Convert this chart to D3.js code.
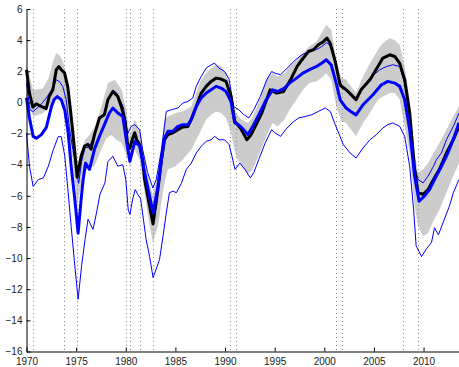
<!DOCTYPE html>
<html><head><meta charset="utf-8">
<script src="https://cdn.jsdelivr.net/npm/d3@7"></script>
<style>
body{margin:0;background:#fff}
svg{display:block}
.tick text{font-family:"Liberation Sans",Arial,Helvetica,sans-serif;font-size:10px;fill:#222}
</style>
</head><body>
<svg id="chart" width="459" height="367"></svg>
<script>
const xTicks = [1970,1975,1980,1985,1990,1995,2000,2005,2010];
const yTicks = [-16,-14,-12,-10,-8,-6,-4,-2,0,2,4,6];
const recessionDates = [1970.65,1973.78,1975.1,1980.0,1980.42,1981.42,1982.78,1990.48,1991.12,2001.15,2001.83,2007.93,2009.45];

const bandUpper = [[1970.0,2.5],[1970.67,0.8],[1971.65,0.9],[1972.3,1.67],[1972.65,2.6],[1973.0,3.17],[1973.3,3.05],[1973.65,2.7],[1974.0,1.78],[1974.3,0.17],[1974.67,-1.54],[1975.1,-4.1],[1975.5,-3.25],[1975.9,-2.4],[1976.2,-2.2],[1976.9,-1.54],[1977.55,-0.26],[1978.2,1.24],[1978.9,1.45],[1979.6,0.8],[1980.1,-0.68],[1980.4,-2.18],[1980.9,-1.1],[1981.4,-1.75],[1981.9,-3.67],[1982.4,-5.17],[1982.73,-6.0],[1983.24,-4.5],[1983.6,-2.6],[1983.9,-1.1],[1984.25,-0.9],[1985.0,-0.68],[1985.75,-0.58],[1986.6,-0.26],[1987.1,0.6],[1987.6,1.45],[1988.1,1.88],[1988.6,2.2],[1989.1,2.42],[1989.6,2.3],[1990.1,1.88],[1990.6,0.81],[1991.1,-0.68],[1991.65,-1.1],[1992.3,-1.32],[1992.8,-0.9],[1993.5,0.17],[1994.15,1.45],[1994.8,1.88],[1995.3,1.67],[1996.0,1.88],[1996.5,2.3],[1997.2,2.74],[1997.85,3.17],[1998.5,3.6],[1999.2,3.9],[1999.7,4.45],[2000.2,4.98],[2000.7,4.66],[2001.2,2.74],[2001.7,1.6],[2002.2,1.45],[2003.2,0.6],[2003.9,1.67],[2004.6,2.52],[2005.4,3.38],[2005.9,3.8],[2006.6,4.13],[2007.1,4.0],[2007.6,3.7],[2008.1,2.3],[2008.6,0.17],[2009.1,-3.25],[2009.45,-4.5],[2009.95,-4.3],[2010.45,-3.9],[2011.0,-3.25],[2011.6,-2.6],[2012.3,-1.75],[2013.0,-0.9],[2013.57,-0.26]];

const bandLower = [[1970.0,0.3],[1970.67,-0.9],[1971.65,-0.7],[1972.3,-0.26],[1972.65,0.0],[1973.0,0.4],[1973.3,0.5],[1973.65,0.2],[1974.0,-0.7],[1974.3,-2.2],[1974.67,-3.7],[1975.1,-6.6],[1975.5,-5.4],[1975.9,-4.5],[1976.2,-4.2],[1976.85,-4.1],[1977.55,-3.0],[1978.05,-2.3],[1978.55,-2.1],[1979.05,-2.4],[1979.6,-2.6],[1980.1,-3.46],[1980.4,-4.1],[1980.9,-3.03],[1981.4,-3.67],[1981.9,-5.8],[1982.4,-7.95],[1982.73,-9.0],[1983.24,-7.95],[1983.6,-6.4],[1983.9,-5.17],[1984.25,-4.3],[1985.0,-4.1],[1985.75,-3.67],[1986.6,-3.03],[1987.1,-2.4],[1987.6,-1.75],[1988.1,-1.1],[1988.6,-0.79],[1989.1,-0.58],[1989.6,-0.68],[1990.1,-1.0],[1990.6,-1.95],[1991.1,-3.46],[1991.65,-4.1],[1992.3,-4.6],[1992.8,-4.3],[1993.5,-3.25],[1994.15,-2.18],[1994.8,-1.32],[1995.3,-1.54],[1996.0,-1.1],[1996.5,-0.47],[1997.2,0.17],[1997.85,0.81],[1998.5,1.24],[1999.2,1.35],[1999.7,1.56],[2000.2,1.88],[2000.7,1.45],[2001.2,-0.26],[2001.7,-1.2],[2002.2,-1.32],[2003.2,-2.18],[2003.9,-1.32],[2004.6,-0.68],[2005.4,0.17],[2005.9,0.38],[2006.6,0.6],[2007.1,0.6],[2007.6,0.17],[2008.1,-1.54],[2008.6,-3.25],[2009.1,-6.67],[2009.45,-7.95],[2009.95,-8.6],[2010.45,-8.4],[2011.0,-7.6],[2011.6,-6.9],[2012.3,-5.8],[2012.8,-5.0],[2013.57,-3.9]];

const blackLine = [[1970.0,2.1],[1970.3,0.6],[1970.64,-0.3],[1970.98,-0.1],[1971.3,-0.2],[1971.65,-0.3],[1971.98,-0.4],[1972.3,0.4],[1972.65,0.8],[1973.0,2.1],[1973.26,2.3],[1973.5,2.1],[1973.83,1.9],[1974.16,1.0],[1974.43,-0.5],[1974.67,-1.95],[1974.94,-3.7],[1975.1,-4.8],[1975.5,-3.46],[1975.85,-2.8],[1976.2,-2.7],[1976.5,-3.0],[1976.85,-2.07],[1977.35,-1.0],[1977.85,-0.79],[1978.2,0.17],[1978.7,0.7],[1979.2,0.38],[1979.55,-0.26],[1979.9,-1.1],[1980.2,-2.8],[1980.4,-2.95],[1980.65,-2.4],[1980.9,-1.95],[1981.1,-2.4],[1981.4,-2.7],[1981.7,-3.7],[1981.9,-4.95],[1982.4,-6.67],[1982.75,-7.8],[1983.24,-5.6],[1983.6,-3.67],[1983.9,-2.4],[1984.25,-2.07],[1984.75,-1.95],[1985.25,-1.75],[1985.75,-1.58],[1986.25,-1.55],[1986.6,-1.1],[1987.1,-0.26],[1987.6,0.6],[1988.1,1.03],[1988.6,1.35],[1989.1,1.56],[1989.6,1.5],[1990.1,1.35],[1990.6,0.4],[1990.97,-1.2],[1991.6,-1.7],[1992.2,-2.4],[1992.6,-2.1],[1993.05,-1.54],[1993.7,-0.68],[1994.55,0.81],[1995.2,0.6],[1995.9,0.7],[1996.6,1.45],[1997.25,2.3],[1997.75,2.74],[1998.4,3.27],[1998.9,3.38],[1999.4,3.7],[1999.9,3.9],[2000.27,4.13],[2000.6,3.8],[2001.1,2.63],[2001.6,1.1],[2002.2,0.81],[2002.7,0.5],[2003.2,0.17],[2003.7,0.81],[2004.6,1.45],[2005.4,2.3],[2005.9,2.85],[2006.6,3.06],[2007.1,2.95],[2007.6,2.5],[2008.1,1.45],[2008.6,-0.66],[2009.1,-4.3],[2009.45,-5.8],[2009.95,-5.9],[2010.45,-5.6],[2011.0,-4.95],[2011.6,-4.3],[2012.3,-3.25],[2013.0,-2.4],[2013.57,-1.54]];

const blueLine = [[1970.0,0.3],[1970.3,-1.0],[1970.67,-2.18],[1971.0,-2.3],[1971.5,-2.07],[1972.0,-1.6],[1972.5,-0.3],[1972.8,0.2],[1973.1,0.38],[1973.5,0.17],[1973.86,-0.5],[1974.2,-1.95],[1974.5,-4.1],[1974.87,-6.24],[1975.2,-8.4],[1975.5,-6.24],[1975.7,-5.0],[1975.95,-3.9],[1976.35,-4.3],[1976.85,-3.0],[1977.35,-2.18],[1977.85,-1.43],[1978.35,-0.68],[1978.7,-0.36],[1979.2,-0.68],[1979.7,-0.9],[1980.1,-2.6],[1980.42,-3.78],[1980.9,-2.5],[1981.4,-2.8],[1981.9,-4.5],[1982.4,-6.0],[1982.75,-7.1],[1983.24,-5.4],[1983.6,-3.67],[1983.9,-2.28],[1984.25,-1.86],[1984.75,-1.86],[1985.25,-1.54],[1985.75,-1.43],[1986.25,-1.43],[1986.6,-1.1],[1987.1,-0.26],[1987.6,0.28],[1988.1,0.6],[1988.6,0.81],[1989.1,1.03],[1989.6,0.92],[1990.1,0.7],[1990.6,0.06],[1990.97,-1.3],[1991.4,-1.45],[1991.8,-1.7],[1992.3,-2.07],[1992.8,-1.54],[1993.5,-0.68],[1994.15,0.17],[1994.8,0.81],[1995.3,0.7],[1996.0,0.92],[1996.5,1.24],[1997.2,1.56],[1997.85,1.88],[1998.5,2.1],[1999.2,2.3],[1999.7,2.5],[2000.2,2.74],[2000.7,2.4],[2001.2,1.24],[2001.6,0.17],[2002.2,-0.36],[2002.7,-0.6],[2003.2,-0.8],[2003.9,-0.15],[2004.9,0.49],[2005.75,1.13],[2006.4,1.35],[2007.1,1.24],[2007.6,1.03],[2008.1,0.17],[2008.6,-1.75],[2009.1,-4.74],[2009.55,-6.35],[2010.1,-6.0],[2010.6,-5.6],[2011.1,-4.95],[2011.8,-4.1],[2012.45,-3.25],[2013.1,-2.18],[2013.57,-1.3]];

const blueUpperThin = [[1970.0,1.25],[1970.35,-0.47],[1970.64,-0.6],[1971.1,-0.35],[1971.65,0.0],[1972.1,0.38],[1972.65,0.94],[1973.0,1.45],[1973.3,1.35],[1973.65,1.03],[1974.0,0.17],[1974.3,-1.54],[1974.67,-3.03],[1975.1,-4.6],[1975.25,-5.2],[1975.55,-3.8],[1975.9,-2.9],[1976.3,-2.9],[1976.85,-2.1],[1977.35,-1.0],[1977.85,-0.7],[1978.2,0.2],[1978.7,0.8],[1979.1,0.6],[1979.4,0.17],[1979.75,-0.3],[1980.0,-1.2],[1980.2,-2.0],[1980.55,-1.54],[1980.9,-1.43],[1981.4,-1.75],[1981.7,-3.03],[1982.2,-4.5],[1982.73,-5.5],[1983.07,-4.95],[1983.6,-3.03],[1983.9,-1.54],[1984.08,-0.58],[1984.6,-0.47],[1985.25,-0.36],[1985.75,-0.04],[1986.25,0.06],[1986.75,0.28],[1987.1,1.03],[1987.6,1.67],[1988.1,2.2],[1988.6,2.42],[1988.95,2.52],[1989.4,2.2],[1989.95,1.99],[1990.4,1.5],[1990.87,-0.26],[1991.37,-0.47],[1991.9,-0.79],[1992.4,-1.0],[1992.9,-0.47],[1993.55,0.38],[1994.2,1.45],[1994.7,1.99],[1995.0,1.88],[1995.6,1.78],[1996.25,2.2],[1997.1,2.74],[1997.75,3.06],[1998.6,3.3],[1999.25,3.4],[1999.75,3.6],[2000.27,3.85],[2000.6,3.6],[2000.95,2.95],[2001.3,1.88],[2001.8,1.0],[2002.3,0.8],[2002.8,0.5],[2003.2,0.3],[2003.8,0.9],[2004.6,1.56],[2005.6,2.1],[2006.25,2.3],[2006.9,2.42],[2007.6,2.3],[2008.1,1.24],[2008.6,-1.1],[2009.1,-4.1],[2009.45,-4.95],[2009.95,-5.17],[2010.45,-4.74],[2011.0,-4.1],[2011.3,-3.67],[2011.8,-3.25],[2012.3,-2.4],[2013.0,-1.54],[2013.57,-0.68]];

const blueLowerThin = [[1970.0,-1.96],[1970.3,-4.1],[1970.67,-5.4],[1971.2,-4.95],[1971.7,-4.85],[1972.2,-4.1],[1972.7,-3.03],[1973.2,-2.2],[1973.5,-2.2],[1973.86,-3.46],[1974.2,-5.8],[1974.5,-7.95],[1974.87,-10.5],[1975.2,-12.65],[1975.55,-10.5],[1975.9,-8.8],[1976.2,-7.5],[1976.7,-8.16],[1977.05,-7.1],[1977.4,-5.9],[1977.9,-5.17],[1978.2,-3.8],[1978.7,-3.46],[1979.2,-4.1],[1979.7,-4.0],[1980.0,-4.95],[1980.25,-6.9],[1980.42,-7.2],[1980.7,-6.2],[1980.95,-5.6],[1981.2,-5.9],[1981.5,-6.2],[1982.05,-8.8],[1982.4,-9.9],[1982.75,-11.25],[1983.07,-10.7],[1983.4,-10.1],[1983.75,-8.6],[1984.08,-7.1],[1984.4,-5.8],[1984.75,-5.7],[1985.1,-5.8],[1985.6,-5.2],[1986.1,-4.3],[1986.6,-3.9],[1987.1,-3.25],[1987.6,-2.82],[1988.1,-2.5],[1988.6,-2.4],[1988.95,-2.18],[1989.4,-2.4],[1989.95,-2.4],[1990.4,-2.7],[1990.7,-3.46],[1991.0,-4.3],[1991.5,-3.9],[1992.0,-4.3],[1992.55,-4.85],[1992.9,-4.5],[1993.4,-3.67],[1994.05,-2.6],[1994.7,-1.75],[1995.0,-1.95],[1995.6,-2.18],[1996.1,-1.75],[1996.75,-1.32],[1997.4,-1.0],[1998.1,-0.9],[1998.75,-0.79],[1999.4,-0.58],[2000.1,-0.36],[2000.6,-0.58],[2001.1,-1.43],[2001.6,-2.2],[2001.9,-2.7],[2002.6,-3.25],[2003.2,-3.57],[2003.9,-2.93],[2004.6,-2.4],[2005.25,-2.07],[2005.9,-1.64],[2006.4,-1.43],[2006.9,-1.32],[2007.6,-1.54],[2008.1,-2.18],[2008.6,-4.1],[2009.0,-6.9],[2009.25,-9.2],[2009.8,-9.9],[2010.3,-9.4],[2010.8,-9.0],[2011.1,-8.05],[2011.5,-8.5],[2012.1,-7.5],[2012.6,-6.67],[2013.0,-5.8],[2013.57,-4.95]];

const svg = d3.select("#chart");
const x = d3.scaleLinear().domain([1970, 2013.57]).range([26.5, 459]);
const y = d3.scaleLinear().domain([-16, 6]).range([351.5, 9]);

const line = d3.line().x(d => x(d[0])).y(d => y(d[1]));

// grey band
svg.append("path")
  .attr("d", line(bandUpper.concat(bandLower.slice().reverse())) + "Z")
  .attr("fill", "#cccccc")
  .attr("stroke", "none");

// recession dotted lines
svg.selectAll("line.rec").data(recessionDates).enter().append("line")
  .attr("class", "rec")
  .attr("x1", d => Math.round(x(d)) + 0.5).attr("x2", d => Math.round(x(d)) + 0.5)
  .attr("y1", y(6)).attr("y2", y(-16))
  .attr("stroke", "#888").attr("stroke-width", 1)
  .attr("stroke-dasharray", "1,3");

// thin blue bands
[blueUpperThin, blueLowerThin].forEach(s => {
  svg.append("path").attr("d", line(s))
    .attr("fill", "none").attr("stroke", "#0000ff").attr("stroke-width", 1)
    .attr("stroke-linejoin", "round");
});

// black thick
svg.append("path").attr("d", line(blackLine))
  .attr("fill", "none").attr("stroke", "#000").attr("stroke-width", 3)
  .attr("stroke-linejoin", "round");

// blue thick
svg.append("path").attr("d", line(blueLine))
  .attr("fill", "none").attr("stroke", "#0000ff").attr("stroke-width", 3)
  .attr("stroke-linejoin", "round");

// axes
const yAxis = d3.axisLeft(y).tickValues(yTicks).tickSize(-4).tickSizeOuter(0).tickPadding(4);
const gy = svg.append("g").attr("transform", "translate(26.5,0)").call(yAxis);
const xAxis = d3.axisBottom(x).tickValues(xTicks).tickSize(-4).tickSizeOuter(0).tickPadding(6).tickFormat(d3.format("d"));
const gx = svg.append("g").attr("transform", "translate(0,351.5)").call(xAxis);
[gx, gy].forEach(g => {
  g.selectAll("path.domain").attr("stroke", "#000").attr("stroke-width", 1);
  g.selectAll(".tick line").attr("stroke", "#000");
});
</script>
</body></html>
